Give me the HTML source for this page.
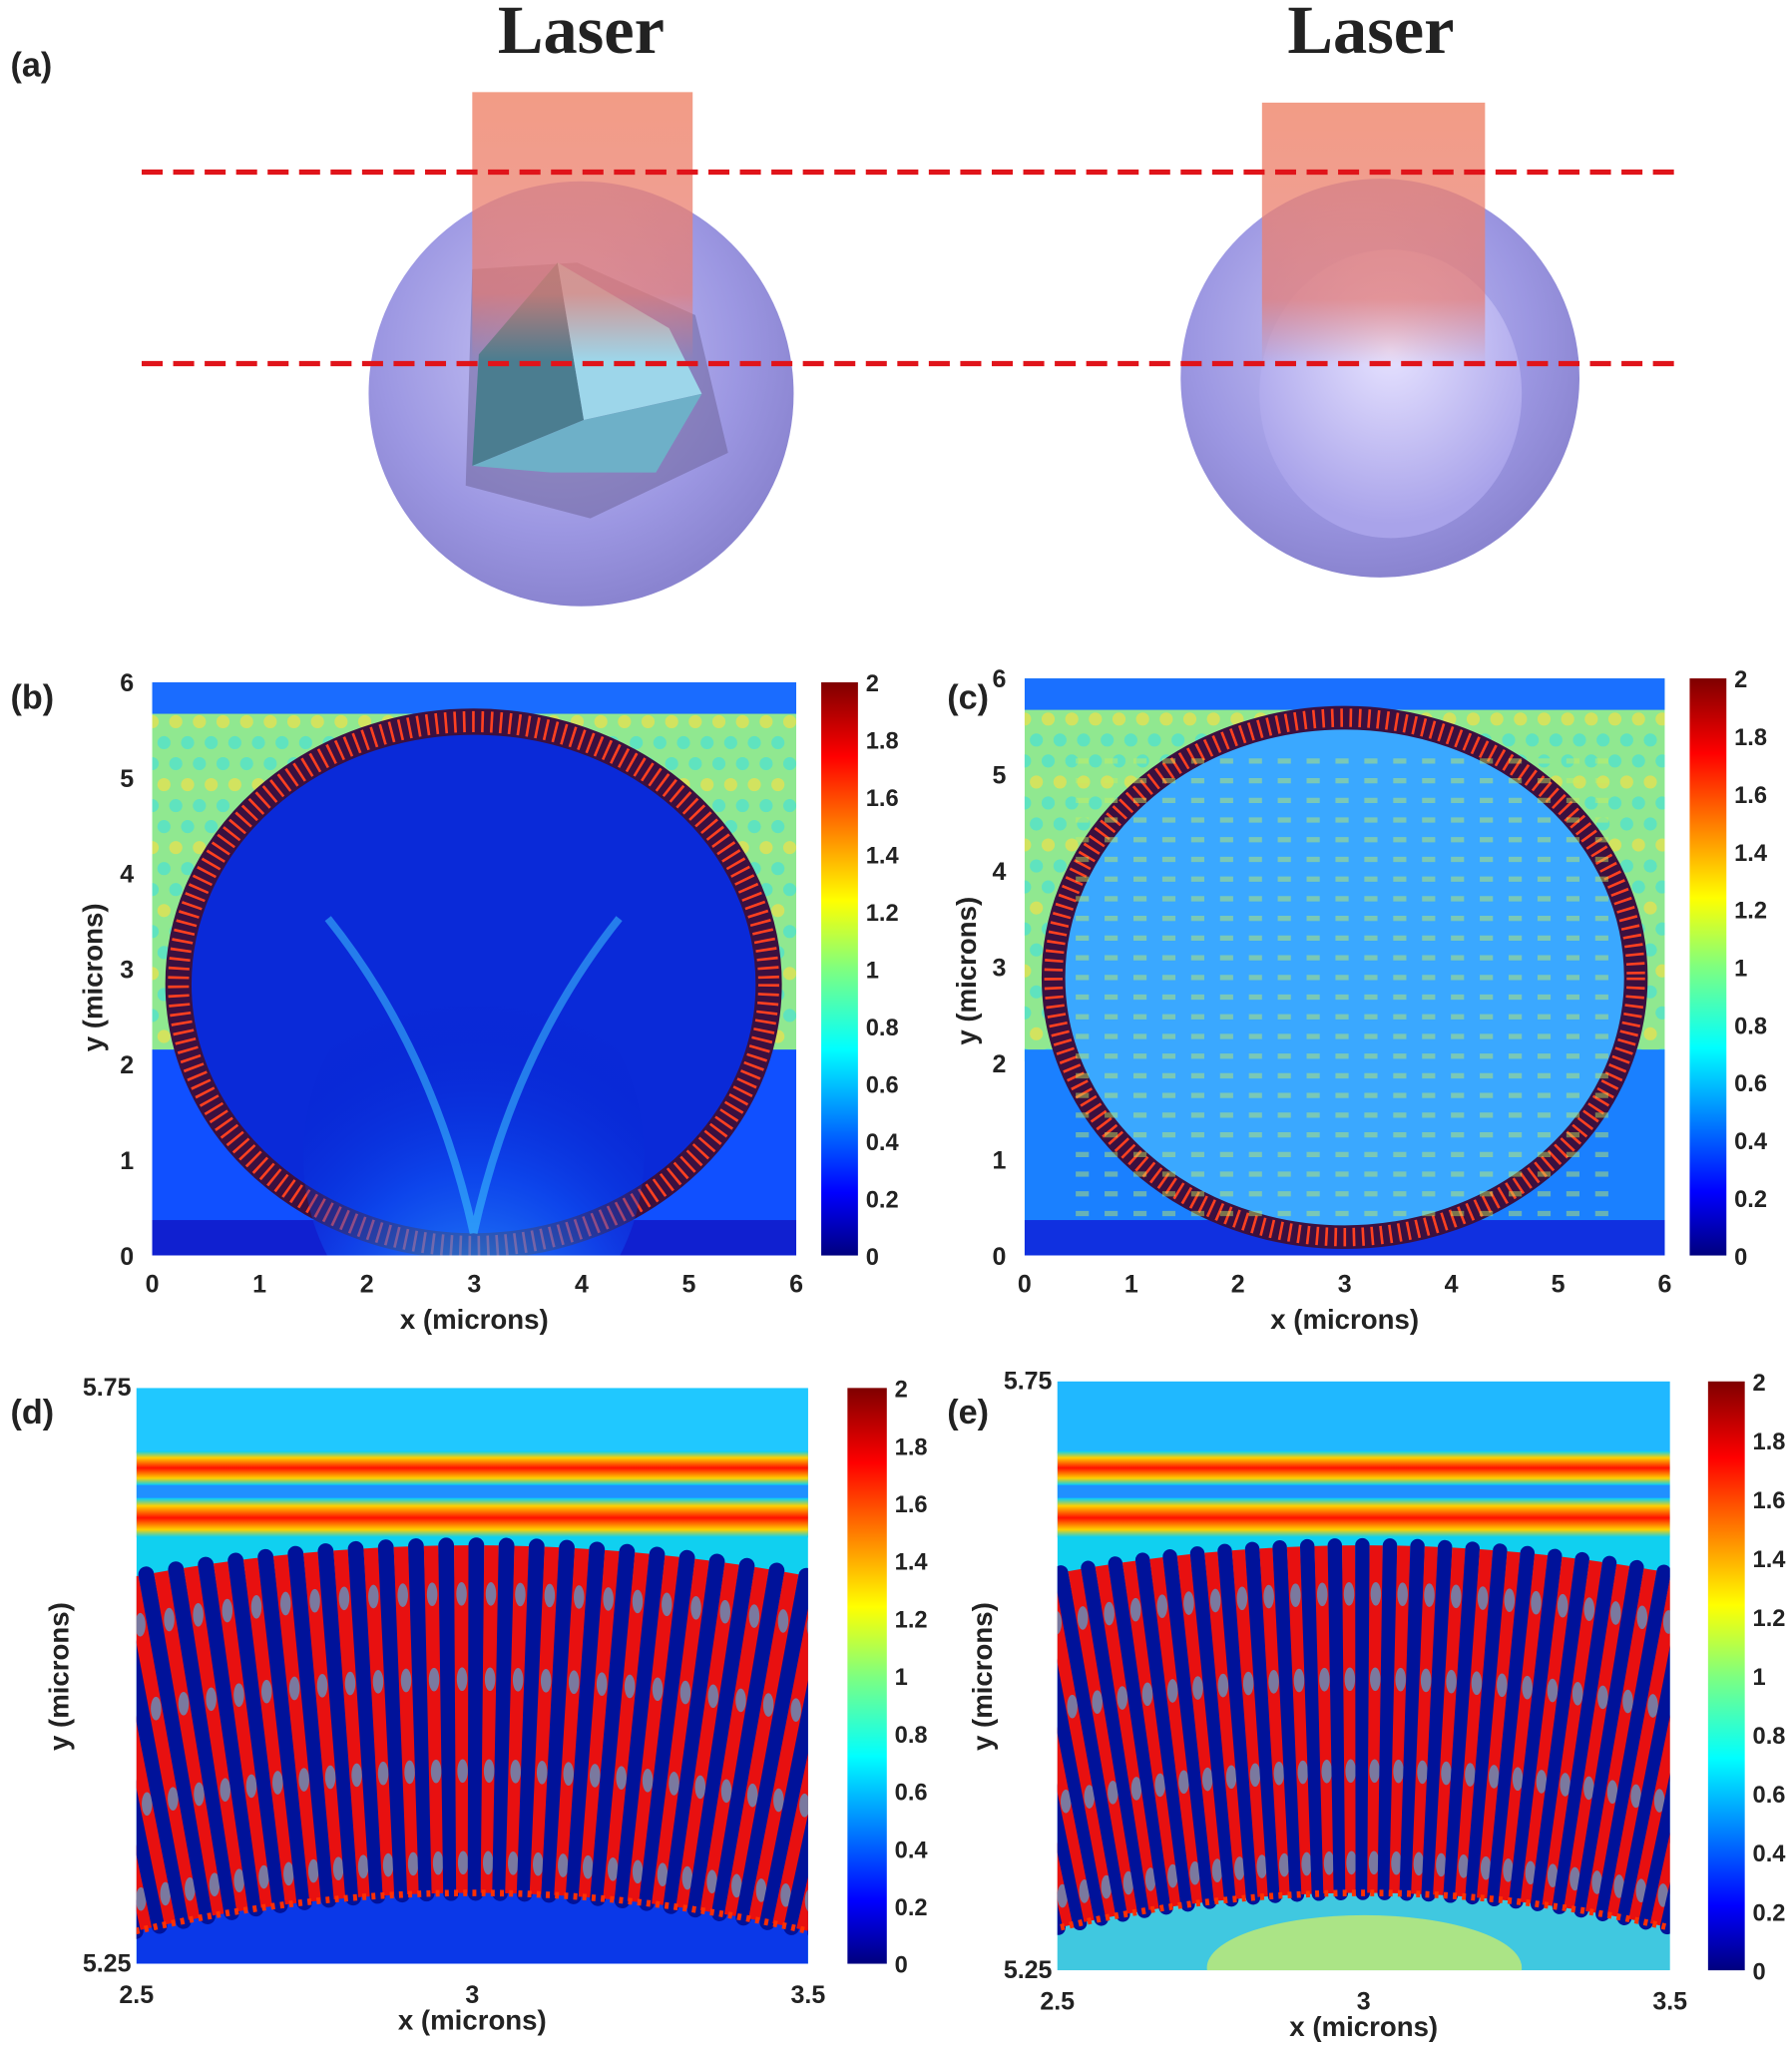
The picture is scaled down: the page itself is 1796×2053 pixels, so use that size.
<!DOCTYPE html>
<html><head><meta charset="utf-8">
<style>
html,body{margin:0;padding:0;background:#fff;}
svg{display:block;}
text{font-family:"Liberation Sans",Arial,sans-serif;font-weight:bold;fill:#222;}
</style></head>
<body>
<svg id="s" width="1796" height="2053" viewBox="0 0 1366 1561" xmlns="http://www.w3.org/2000/svg">
<defs>
<linearGradient id="jet" x1="0" y1="1" x2="0" y2="0">
<stop offset="0" stop-color="#00007f"/><stop offset="0.11" stop-color="#0000ff"/>
<stop offset="0.36" stop-color="#00ffff"/><stop offset="0.5" stop-color="#7fff7f"/>
<stop offset="0.62" stop-color="#ffff00"/><stop offset="0.87" stop-color="#ff0000"/>
<stop offset="1" stop-color="#7f0000"/></linearGradient>
<radialGradient id="sph" cx="0.45" cy="0.4" r="0.6">
<stop offset="0" stop-color="#c9c6f5"/><stop offset="0.7" stop-color="#9c97e2"/><stop offset="1" stop-color="#8a84d0"/></radialGradient>
<radialGradient id="sph2" cx="0.5" cy="0.35" r="0.6">
<stop offset="0" stop-color="#e6e2ff"/><stop offset="1" stop-color="#a9a3ea"/></radialGradient>
<linearGradient id="las" x1="0" y1="0" x2="0" y2="1">
<stop offset="0" stop-color="#f08a70" stop-opacity="0.85"/><stop offset="0.75" stop-color="#e87a70" stop-opacity="0.7"/><stop offset="1" stop-color="#e87a70" stop-opacity="0"/></linearGradient>
<radialGradient id="fan" cx="0.5" cy="1" r="0.9">
<stop offset="0" stop-color="#40c0ff" stop-opacity="0.9"/><stop offset="0.5" stop-color="#1060ff" stop-opacity="0.5"/><stop offset="1" stop-color="#0010c0" stop-opacity="0"/></radialGradient>
<linearGradient id="band" x1="0" y1="0" x2="0" y2="1">
<stop offset="0" stop-color="#00d0ff"/><stop offset="0.2" stop-color="#ffd000"/><stop offset="0.5" stop-color="#ff1000"/><stop offset="0.8" stop-color="#ffd000"/><stop offset="1" stop-color="#00d0ff"/></linearGradient>
<clipPath id="cb"><rect x="116" y="520" width="491" height="437"/></clipPath>
<clipPath id="cc"><rect x="781" y="517" width="488" height="440"/></clipPath>
<clipPath id="cd"><rect x="104" y="1058" width="512" height="439"/></clipPath>
<clipPath id="ce"><rect x="806" y="1053" width="467" height="449"/></clipPath>
</defs>

<!-- (a) -->
<text x="8" y="58" font-size="26">(a)</text>
<text x="443" y="40" font-size="52" text-anchor="middle" style="font-family:'Liberation Serif',serif">Laser</text>
<text x="1045" y="40" font-size="52" text-anchor="middle" style="font-family:'Liberation Serif',serif">Laser</text>
<circle cx="443" cy="300" r="162" fill="url(#sph)"/>
<path d="M360 205 L440 200 L530 240 L555 345 L450 395 L355 370 Z" fill="#6a5f95" opacity="0.5"/>
<polygon points="425,200 365,270 360,355 445,320" fill="#4b7d90"/>
<polygon points="425,200 445,320 535,300 510,250" fill="#9dd6ea"/>
<polygon points="360,355 445,320 535,300 500,360 420,360" fill="#6eb0c8"/>
<circle cx="1052" cy="288" r="152" fill="url(#sph)"/>
<ellipse cx="1060" cy="300" rx="100" ry="110" fill="url(#sph2)"/>
<rect x="360" y="70" width="168" height="205" fill="url(#las)"/>
<rect x="962" y="78" width="170" height="200" fill="url(#las)"/>
<line x1="108" y1="131" x2="1283" y2="131" stroke="#e0141a" stroke-width="4" stroke-dasharray="16,8"/>
<line x1="108" y1="277" x2="1283" y2="277" stroke="#e0141a" stroke-width="4" stroke-dasharray="16,8"/>

<!-- (b) -->
<text x="8" y="540" font-size="26">(b)</text>
<g clip-path="url(#cb)">
<rect x="116" y="520" width="491" height="437" fill="#90e890"/>
<g id="bmot"></g>
<rect x="116" y="520" width="491" height="24" fill="#1a6cff"/>
<rect x="116" y="800" width="491" height="157" fill="#1050ff"/>
<rect x="116" y="930" width="491" height="27" fill="#1020d0"/>
<ellipse cx="361" cy="750" rx="225" ry="200" fill="#0a2ad8" stroke="#3a1040" stroke-width="20"/>
<ellipse cx="361" cy="750" rx="225" ry="200" fill="none" stroke="#ff4020" stroke-width="16" stroke-dasharray="2,5"/>
<ellipse cx="361" cy="880" rx="130" ry="150" fill="url(#fan)"/>
<path d="M361 940 Q330 800 250 700 M361 940 Q392 800 472 700" stroke="#40d0ff" stroke-width="6" fill="none" opacity="0.5"/>
</g>
<rect x="626" y="520" width="28" height="437" fill="url(#jet)"/>

<!-- (c) -->
<text x="722" y="540" font-size="26">(c)</text>
<g clip-path="url(#cc)">
<rect x="781" y="517" width="488" height="440" fill="#90e890"/>
<g id="cmot"></g>
<rect x="781" y="517" width="488" height="24" fill="#1a70ff"/>
<rect x="781" y="800" width="488" height="157" fill="#1a80ff"/>
<rect x="781" y="930" width="488" height="27" fill="#1030e0"/>
<ellipse cx="1025" cy="745" rx="222" ry="198" fill="#3aa8ff" stroke="#3a1040" stroke-width="18"/>
<ellipse cx="1025" cy="745" rx="222" ry="198" fill="none" stroke="#ff4020" stroke-width="14" stroke-dasharray="2,5"/>
<g id="cstripes"></g>
</g>
<rect x="1288" y="517" width="28" height="440" fill="url(#jet)"/>

<!-- (d) -->
<text x="8" y="1085" font-size="26">(d)</text>
<g clip-path="url(#cd)">
<rect x="104" y="1058" width="512" height="439" fill="#10d0f0"/>
<rect x="104" y="1058" width="512" height="50" fill="#20c8ff"/>
<rect x="104" y="1106" width="512" height="26" fill="url(#band)"/>
<rect x="104" y="1132" width="512" height="10" fill="#2090ff"/>
<rect x="104" y="1142" width="512" height="30" fill="url(#band)"/>
<rect x="104" y="1440" width="512" height="57" fill="#0a38e8"/>
<g id="dbars"></g>
</g>
<rect x="646" y="1058" width="30" height="439" fill="url(#jet)"/>

<!-- (e) -->
<text x="722" y="1085" font-size="26">(e)</text>
<g clip-path="url(#ce)">
<rect x="806" y="1053" width="467" height="449" fill="#10d0f0"/>
<rect x="806" y="1053" width="467" height="55" fill="#20b8ff"/>
<rect x="806" y="1106" width="467" height="26" fill="url(#band)"/>
<rect x="806" y="1132" width="467" height="10" fill="#2090ff"/>
<rect x="806" y="1142" width="467" height="30" fill="url(#band)"/>
<rect x="806" y="1440" width="467" height="62" fill="#40c8e0"/>
<ellipse cx="1040" cy="1500" rx="120" ry="40" fill="#d8f060" opacity="0.7"/>
<g id="ebars"></g>
</g>
<rect x="1302" y="1053" width="28" height="449" fill="url(#jet)"/>
<g id="ticks"></g>
</svg>
<script>
var NS="http://www.w3.org/2000/svg",s=document.getElementById('s');
function el(p,t,a,txt){var e=document.createElementNS(NS,t);for(var k in a)e.setAttribute(k,a[k]);if(txt!==undefined)e.textContent=txt;(p||s).appendChild(e);return e;}
var T=document.getElementById('ticks');
function cbar(x,y0,y1){for(var i=0;i<=10;i++){var y=y1-(y1-y0)*i/10;var v=(i*0.2).toFixed(1).replace(/\.0$/,'');if(i==5)v='1';el(T,'text',{x:x,y:y+7,'font-size':18},v);}}
cbar(660,520,957);cbar(1322,517,957);cbar(682,1058,1497);cbar(1336,1053,1502);
function axes(x0,x1,y0,y1,n,lx,ly){for(var i=0;i<=n;i++){var x=x0+(x1-x0)*i/n;el(T,'text',{x:x,y:y1+28,'font-size':19,'text-anchor':'middle'},''+i);var y=y1-(y1-y0)*i/n;el(T,'text',{x:x0-14,y:y+7,'font-size':19,'text-anchor':'end'},''+i);}
el(T,'text',{x:(x0+x1)/2,y:y1+56,'font-size':21,'text-anchor':'middle'},'x (microns)');
el(T,'text',{x:lx,y:ly,'font-size':21,'text-anchor':'middle',transform:'rotate(-90 '+lx+' '+ly+')'},'y (microns)');}
axes(116,607,520,957,6,78,745);axes(781,1269,517,957,6,744,740);
function zaxes(x0,x1,y0,y1,lx,ly){el(T,'text',{x:x0,y:y1+30,'font-size':19,'text-anchor':'middle'},'2.5');el(T,'text',{x:(x0+x1)/2,y:y1+30,'font-size':19,'text-anchor':'middle'},'3');el(T,'text',{x:x1,y:y1+30,'font-size':19,'text-anchor':'middle'},'3.5');
el(T,'text',{x:x0-4,y:y0+6,'font-size':19,'text-anchor':'end'},'5.75');el(T,'text',{x:x0-4,y:y1+6,'font-size':19,'text-anchor':'end'},'5.25');
el(T,'text',{x:(x0+x1)/2,y:y1+50,'font-size':21,'text-anchor':'middle'},'x (microns)');
el(T,'text',{x:lx,y:ly,'font-size':21,'text-anchor':'middle',transform:'rotate(-90 '+lx+' '+ly+')'},'y (microns)');}
zaxes(104,616,1058,1497,52,1278);zaxes(806,1273,1053,1502,756,1278);
function bars(g,cx,top,R,period,w){g=document.getElementById(g);var cy=top+R;var st=period/R;
var a;
for(a=-0.3;a<=0.3;a+=st){var sa=Math.sin(a),ca=Math.cos(a),r1=R,r2=R-265;
el(g,'line',{x1:cx+sa*r1,y1:cy-ca*r1,x2:cx+sa*r2,y2:cy-ca*r2,stroke:'#e81010','stroke-width':period-w});
[1215,1280,1350,1420].forEach(function(yy){var r=cy-yy;el(g,'ellipse',{cx:cx+sa*r,cy:cy-ca*r,rx:4,ry:9,fill:'#30c0ff',opacity:0.6});});
var b=a+st/2,sb=Math.sin(b),cb=Math.cos(b);
el(g,'line',{x1:cx+sb*r1,y1:cy-cb*r1,x2:cx+sb*r2,y2:cy-cb*r2,stroke:'#00129a','stroke-width':w,'stroke-linecap':'round'});}
var rb=R-265;el(g,'path',{d:'M'+(cx-Math.sin(0.3)*rb)+' '+(cy-Math.cos(0.3)*rb)+' A'+rb+' '+rb+' 0 0 1 '+(cx+Math.sin(0.3)*rb)+' '+(cy-Math.cos(0.3)*rb),stroke:'#ff3000','stroke-width':5,fill:'none','stroke-dasharray':'3,4'});}
bars('dbars',360,1178,1408,23,12);
bars('ebars',1040,1178,1300,21,11);
var C=document.getElementById('cstripes');
for(var y=580;y<940;y+=15){el(C,'line',{x1:820,y1:y,x2:1235,y2:y,stroke:'#c8f060','stroke-width':4,'stroke-dasharray':'10,12',opacity:0.45});}
function mot(id,x0,y0,w,h){var g=document.getElementById(id);var k=0;for(var y=y0;y<y0+h;y+=16){for(var x=x0+(k%2)*9;x<x0+w;x+=18){el(g,'circle',{cx:x,cy:y,r:5,fill:((x+y)%3==0)?'#ffe040':'#40e0e0',opacity:0.6});}k++;}}
mot('bmot',116,550,491,260);mot('cmot',781,548,488,260);
</script>
</body></html>
